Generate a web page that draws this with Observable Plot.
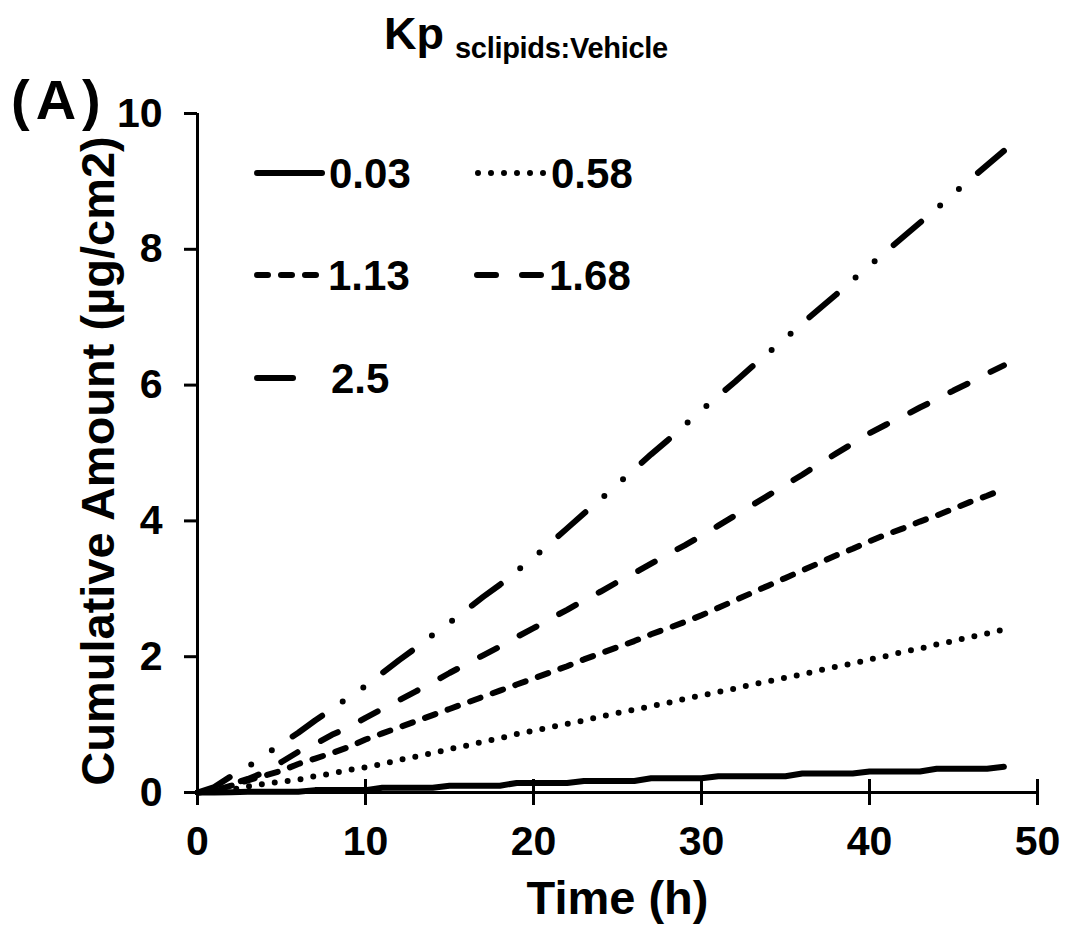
<!DOCTYPE html>
<html>
<head>
<meta charset="utf-8">
<script src="https://cdn.jsdelivr.net/npm/d3@7"></script>
<script src="https://cdn.jsdelivr.net/npm/@observablehq/plot@0.6"></script>
<style>
  body { margin: 0; background: #fff; }
  #wrap { position: relative; width: 1066px; height: 926px; font-family: "Liberation Sans", Arial, sans-serif; font-weight: bold; color: #000; }
  #title { position: absolute; left: 0; top: 0; width: 1066px; height: 70px; }
  #title .kp { position: absolute; left: 384px; top: 0; font-size: 45px; line-height: 1; }
  #title .sub { position: absolute; left: 455px; top: 0; font-size: 29px; line-height: 1; letter-spacing: -0.3px; }
  #chart { position: absolute; left: 0; top: 70px; }
  #panel { position: absolute; left: 11px; top: 72px; font-size: 56px; line-height: 1; letter-spacing: 6px; }
  #legend { position: absolute; left: 0; top: 0; pointer-events: none; }
</style>
</head>
<body>
<div id="wrap">
  <div id="title"><span class="kp" id="kp">Kp</span><span class="sub" id="sub">sclipids:Vehicle</span></div>
  <div id="chart"></div>
  <div id="panel">(A)</div>
  <svg id="legend" width="1066" height="926"></svg>
</div>
<script>
// ---- data ----
const hours = [0,1,2,3,4,5,6,7,8,9,10,11,12,13,14,15,16,17,18,19,20,21,22,23,24,25,26,27,28,29,30,31,32,33,34,35,36,37,38,39,40,41,42,43,44,45,46,47,48];
const seriesNames = ["0.03", "0.58", "1.13", "1.68", "2.5"];
const kp003 = [0,0,0.005,0.01,0.01,0.01,0.01,0.035,0.035,0.035,0.035,0.07,0.07,0.07,0.07,0.10,0.10,0.10,0.10,0.14,0.14,0.14,0.14,0.17,0.17,0.17,0.17,0.21,0.21,0.21,0.21,0.24,0.24,0.24,0.24,0.24,0.28,0.28,0.28,0.28,0.31,0.31,0.31,0.31,0.35,0.35,0.35,0.35,0.38];
const kp058 = [0,0.01,0.04,0.09,0.13,0.16,0.19,0.24,0.28,0.33,0.37,0.42,0.48,0.53,0.58,0.64,0.69,0.75,0.80,0.86,0.91,0.96,1.01,1.06,1.12,1.17,1.22,1.27,1.32,1.38,1.43,1.48,1.53,1.59,1.64,1.69,1.74,1.80,1.85,1.90,1.96,2.01,2.07,2.12,2.18,2.23,2.29,2.34,2.40];
const kp113 = [0,0.03,0.10,0.18,0.25,0.32,0.42,0.50,0.58,0.67,0.78,0.87,0.96,1.05,1.14,1.23,1.32,1.41,1.50,1.59,1.68,1.77,1.86,1.96,2.05,2.14,2.23,2.33,2.42,2.51,2.61,2.72,2.83,2.94,3.05,3.16,3.27,3.38,3.49,3.59,3.70,3.80,3.89,3.99,4.08,4.18,4.28,4.37,4.47];
const kp168 = [0,0.03,0.12,0.20,0.30,0.45,0.60,0.71,0.85,0.96,1.10,1.23,1.36,1.49,1.62,1.76,1.89,2.02,2.15,2.29,2.42,2.56,2.69,2.83,2.96,3.10,3.23,3.37,3.51,3.64,3.78,3.93,4.08,4.23,4.38,4.53,4.68,4.84,4.99,5.14,5.29,5.42,5.54,5.67,5.79,5.92,6.04,6.17,6.29];
const kp250 = [0,0.08,0.24,0.38,0.55,0.72,0.88,1.06,1.23,1.40,1.57,1.76,1.95,2.13,2.32,2.50,2.69,2.88,3.06,3.26,3.46,3.67,3.89,4.11,4.32,4.54,4.76,4.98,5.19,5.41,5.63,5.84,6.05,6.27,6.48,6.69,6.91,7.12,7.33,7.55,7.76,7.97,8.18,8.39,8.60,8.82,9.03,9.24,9.45];
const xTicks = [0, 10, 20, 30, 40, 50];
const yTicks = [0, 2, 4, 6, 8, 10];
const xLabel = "Time (h)";
const yLabel = "Cumulative Amount (µg/cm2)";

// ---- styles ----
const dashStyles = ["none", "0 13", "11 13", "19 26", "36 25 0 25 0 25"];
const seriesValues = [kp003, kp058, kp113, kp168, kp250];

const W = 1066, H = 856;
const mL = 197, mR = 29, mT = 43, mB = 134;
const frameH = H - mT - mB;

const lineMarks = seriesValues.map((vals, k) =>
  Plot.line(hours.map((t, i) => ({t, v: vals[i]})), {
    x: "t", y: "v", stroke: "#000", strokeWidth: 6,
    strokeDasharray: dashStyles[k] === "none" ? undefined : dashStyles[k],
    strokeLinecap: "round", strokeLinejoin: "round"
  })
);

const chart = Plot.plot({
  width: W, height: H,
  marginLeft: mL, marginRight: mR, marginTop: mT, marginBottom: mB,
  style: {fontFamily: "'Liberation Sans', Arial, sans-serif", fontWeight: "bold", color: "#000", background: "#fff", overflow: "visible"},
  x: {domain: [0, 50]},
  y: {domain: [0, 10]},
  marks: [
    ...lineMarks,
    Plot.ruleX([0], {strokeWidth: 3}),
    Plot.ruleY([0], {strokeWidth: 3}),
    Plot.axisY(yTicks, {tickSize: 13, tickPadding: 22, strokeWidth: 3, fontSize: 41, label: null, tickFormat: d => String(d)}),
    Plot.axisX(xTicks, {tickSize: 13, tickPadding: 20, strokeWidth: 3, fontSize: 41, label: null, tickFormat: d => String(d)}),
    Plot.tickX(xTicks, {x: d => d, insetTop: frameH - 13, strokeWidth: 3}),
    Plot.text([xLabel], {frameAnchor: "bottom", dy: 106, fontSize: 47, fontWeight: "bold", textAnchor: "middle", lineAnchor: "middle"}),
    Plot.text([yLabel], {frameAnchor: "left", dx: -99, dy: 8, rotate: -90, fontSize: 47, fontWeight: "bold", textAnchor: "middle", lineAnchor: "middle"})
  ]
});
document.getElementById("chart").appendChild(chart);

// ---- legend ----
const lg = d3.select("#legend");
const legendItems = [
  {name: seriesNames[0], dash: dashStyles[0], x1: 257, x2: 322, tx: 329, y: 173},
  {name: seriesNames[1], dash: dashStyles[1], x1: 478, x2: 544, tx: 551, y: 173},
  {name: seriesNames[2], dash: dashStyles[2], x1: 257, x2: 320, tx: 328, y: 275},
  {name: seriesNames[3], dash: dashStyles[3], x1: 477, x2: 542, tx: 549, y: 275},
  {name: seriesNames[4], dash: dashStyles[4], x1: 257, x2: 315, tx: 331, y: 378}
];
legendItems.forEach(it => {
  lg.append("line").attr("x1", it.x1).attr("x2", it.x2).attr("y1", it.y).attr("y2", it.y)
    .attr("stroke", "#000").attr("stroke-width", 6).attr("stroke-linecap", "round")
    .attr("stroke-dasharray", it.dash === "none" ? null : it.dash);
  lg.append("text").attr("x", it.tx).attr("y", it.y + 15)
    .attr("font-family", "'Liberation Sans', Arial, sans-serif").attr("font-weight", "bold")
    .attr("font-size", 42).text(it.name);
});

// title baselines
document.getElementById("kp").style.top = (52 - 45 * 0.905) + "px";
document.getElementById("sub").style.top = (60 - 29 * 0.905) + "px";
</script>
</body>
</html>
